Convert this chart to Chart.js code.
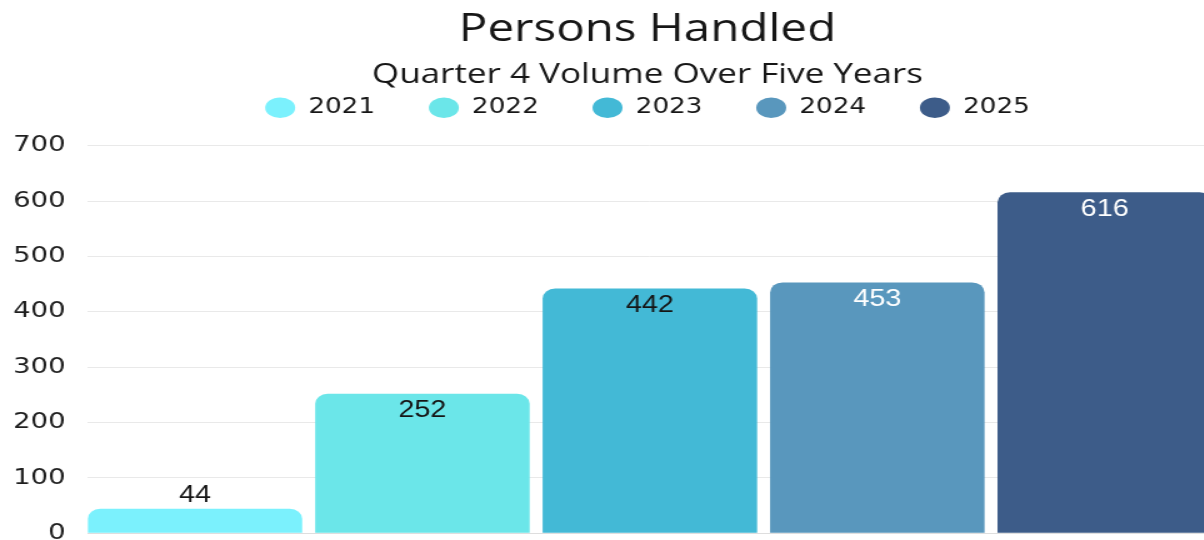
<!DOCTYPE html>
<html>
<head>
<meta charset="utf-8">
<script src="https://cdn.jsdelivr.net/npm/chart.js@4.4.1/dist/chart.umd.min.js"></script>
<style>
  html, body { margin: 0; padding: 0; background: #fff; overflow: hidden; }
  #wrap { width: 1043px; height: 564px; transform: scaleX(1.25); transform-origin: 0 0; }
</style>
</head>
<body>
<div id="wrap"><canvas id="personsChart" width="1043" height="564"></canvas></div>
<script>
const years = ['2021', '2022', '2023', '2024', '2025'];
const personsHandled = [44, 252, 442, 453, 616];
const barColors = ['#7bf1fd', '#6be6e9', '#43b9d6', '#5997bd', '#3d5c89'];
const valueColors = ['#151515', '#151515', '#151515', '#ffffff', '#ffffff'];
const yMax = 700;
const yStep = 100;

// bar values drawn just under the top of each bar (above it when the bar is short)
const barValueLabels = {
    id: 'barValueLabels',
    afterDatasetsDraw(chart) {
        const ctx = chart.ctx;
        ctx.save();
        ctx.font = '23px "Liberation Sans", Arial, sans-serif';
        ctx.textAlign = 'center';
        ctx.textBaseline = 'middle';
        chart.data.datasets.forEach((ds, i) => {
            chart.getDatasetMeta(i).data.forEach((bar, j) => {
                const inside = bar.base - bar.y > 40;
                ctx.fillStyle = inside ? valueColors[i] : '#151515';
                ctx.fillText(String(ds.data[j].y), bar.x, inside ? bar.y + 17 : bar.y - 13);
            });
        });
        ctx.restore();
    }
};

// extra space between legend and plot
const legendGap = {
    id: 'legendGap',
    beforeInit(chart) {
        const fit = chart.legend.fit;
        chart.legend.fit = function () {
            fit.call(this);
            this.height += 17.5;
        };
    }
};

const ctx = document.getElementById('personsChart');

new Chart(ctx, {
    type: 'bar',
    data: {
        datasets: years.map((year, i) => ({
            label: year,
            data: [{ x: i, y: personsHandled[i] }],
            backgroundColor: barColors[i],
            borderWidth: 0,
            borderRadius: 10,
            borderSkipped: 'start',
            grouped: false,
            barPercentage: 0.943,
            categoryPercentage: 1,
        })),
    },
    options: {
        responsive: false,
        animation: false,
        devicePixelRatio: 1,
        layout: { padding: { left: -7, right: 0, top: 0, bottom: 0 } },
        plugins: {
            title: {
                display: true,
                text: 'Persons Handled',
                color: '#161616',
                font: { family: "'Open Sans', sans-serif", size: 38, weight: 'normal' },
                padding: { top: 7, bottom: 0 },
            },
            subtitle: {
                display: true,
                text: 'Quarter 4 Volume Over Five Years',
                color: '#161616',
                font: { family: "'Open Sans', sans-serif", size: 28, weight: 'normal' },
                padding: { top: 6, bottom: -38 },
            },
            legend: {
                display: true,
                position: 'top',
                labels: {
                    usePointStyle: true,
                    pointStyle: 'circle',
                    pointStyleWidth: 24,
                    boxHeight: 14.5,
                    padding: 43,
                    color: '#161616',
                    font: { family: "'DejaVu Sans', sans-serif", size: 21 },
                },
            },
            tooltip: { enabled: false },
        },
        scales: {
            x: {
                type: 'linear',
                offset: false,
                min: -0.4715,
                max: 4.4715,
                ticks: { display: false, stepSize: 1, includeBounds: false },
                grid: { display: false },
                border: { display: true, color: '#dedede' },
            },
            y: {
                min: 0,
                max: yMax,
                ticks: {
                    stepSize: yStep,
                    padding: 17.6,
                    color: '#1e1e1e',
                    font: { family: "'DejaVu Sans', sans-serif", size: 22 },
                },
                grid: { color: '#e9e9e9', drawTicks: false },
                border: { display: false },
            },
            spacer: {
                position: 'right',
                display: true,
                ticks: { display: false },
                grid: { display: false },
                border: { display: false },
                afterFit: (scale) => { scale.width = 73.4; },
            },
        },
    },
    plugins: [barValueLabels, legendGap],
});
</script>
</body>
</html>
